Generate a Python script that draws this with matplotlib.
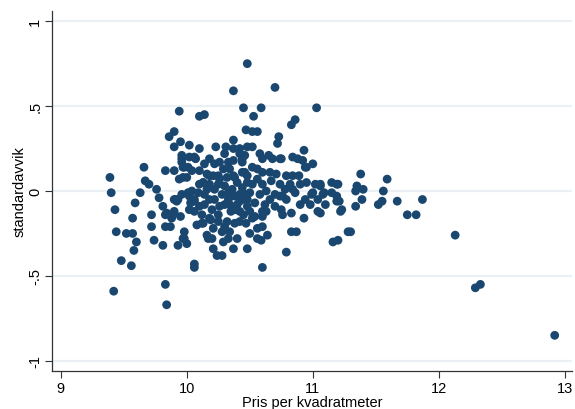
import matplotlib
matplotlib.use("Agg")
import matplotlib.pyplot as plt

plt.rcParams['font.family'] = ['Liberation Sans', 'DejaVu Sans']

price = [
    9.39, 9.40, 9.43, 9.44, 9.52, 9.57, 9.60, 9.58, 9.48, 9.56, 9.42, 9.57, 9.59, 9.63, 9.66, 9.67,
    9.70, 9.76, 9.78, 9.83, 9.90, 9.81, 9.72, 9.72, 9.74, 9.81, 9.84, 9.83, 9.87, 9.88, 9.90, 9.91,
    9.93, 9.95, 9.93, 9.83, 9.84, 9.98, 9.98, 10.00, 10.06, 10.06, 9.94, 9.96, 9.96, 10.06, 10.01, 10.00,
    10.04, 10.10, 10.01, 10.04, 10.03, 10.06, 10.06, 10.10, 10.08, 10.13, 10.19, 10.16, 10.17, 10.21,
    10.24, 10.28, 10.29, 10.37, 10.28, 10.32, 10.35, 9.94, 10.10, 10.14, 10.37, 10.48, 10.45, 10.47,
    9.90, 9.86, 9.95, 9.90, 10.02, 10.10, 10.23, 10.31, 10.37, 10.37, 10.42, 10.48, 10.07, 9.96,
    9.98, 10.13, 10.22, 10.26, 10.33, 10.37, 10.44, 10.46, 10.18, 10.25, 10.32, 10.38, 10.44, 10.29,
    10.70, 10.59, 10.53, 11.03, 10.86, 10.83, 10.52, 10.56, 10.73, 10.72, 10.93, 10.52, 10.58, 10.65,
    10.74, 10.84, 10.92, 11.00, 10.95, 10.89, 10.95, 11.02, 11.06, 11.15, 11.19, 11.09, 11.15, 10.70,
    10.63, 10.52, 10.66, 10.71, 10.79, 10.60, 10.60, 10.68, 10.75, 10.88, 10.94, 10.52, 10.56, 10.46,
    10.42, 10.44, 10.02, 9.97, 9.90, 9.92, 9.83, 9.89, 9.97, 10.12, 10.18, 10.02, 10.06, 9.96,
    10.02, 10.09, 10.16, 10.13, 9.97, 10.16, 10.21, 10.26, 10.37, 10.33, 10.38, 10.48, 10.60, 10.79,
    10.59, 10.64, 10.50, 10.56, 10.60, 10.52, 10.54, 10.60, 10.63, 10.50, 10.48, 10.75, 10.76, 10.83,
    10.83, 10.87, 10.93, 11.04, 11.06, 11.16, 11.20, 10.76, 10.79, 10.84, 10.86, 10.99, 11.08, 11.19,
    10.42, 10.44, 10.48, 10.56, 11.23, 11.19, 11.28, 11.00, 11.06, 10.84, 10.74, 10.48, 10.50, 10.48,
    10.54, 10.40, 10.60, 11.20, 11.21, 11.22, 11.30, 11.34, 11.38, 11.35, 11.40, 11.34, 11.39, 11.52,
    11.55, 11.59, 11.56, 11.67, 11.75, 11.82, 11.87, 12.13, 12.29, 12.33, 12.92,
    10.10, 10.14, 10.18, 10.22, 10.25, 10.28, 10.30, 10.20, 10.14, 10.25, 10.34, 10.38, 10.42, 10.44,
    10.40, 10.30, 10.22, 10.33, 10.36, 10.18, 10.26, 10.12, 10.21, 10.25, 10.42, 10.46, 10.38, 10.34,
    10.30, 10.20, 10.42, 10.45, 10.47, 10.40, 10.33, 10.56, 10.60, 10.67, 10.74, 10.78, 10.66, 10.58,
    10.62, 10.70, 10.90, 10.94, 10.98, 11.04, 11.10, 10.90, 10.82, 10.18, 10.30, 10.14, 10.34,
]

std_dev = [
    0.08, -0.01, -0.11, -0.24, -0.25, -0.25, -0.30, -0.35, -0.41, -0.44, -0.59, -0.16, -0.07, -0.01, 0.14, 0.06,
    0.04, 0.01, -0.04, 0.12, 0.12, -0.09, -0.14, -0.21, -0.29, -0.32, -0.13, -0.21, -0.21, -0.16, -0.12, -0.05,
    -0.05, -0.15, -0.32, -0.55, -0.67, -0.24, -0.28, -0.31, -0.43, -0.45, 0.07, 0.19, 0.21, 0.20, 0.14, 0.08,
    0.12, 0.12, -0.01, 0.00, -0.07, -0.05, -0.12, -0.09, -0.20, -0.19, -0.17, -0.26, -0.28, -0.34,
    -0.38, -0.38, -0.30, -0.34, -0.24, -0.18, -0.12, 0.47, 0.44, 0.45, 0.59, 0.75, 0.49, 0.36,
    0.35, 0.32, 0.29, 0.26, 0.27, 0.25, 0.26, 0.26, 0.30, 0.25, 0.25, 0.26, 0.19, 0.17,
    0.14, 0.05, 0.16, 0.17, 0.17, 0.18, 0.17, 0.21, 0.09, 0.09, 0.08, 0.08, 0.11, 0.13,
    0.61, 0.49, 0.44, 0.49, 0.42, 0.39, 0.35, 0.35, 0.32, 0.28, 0.24, 0.26, 0.22, 0.21,
    0.19, 0.20, 0.18, 0.16, 0.14, 0.09, 0.05, 0.04, 0.03, 0.05, 0.04, -0.01, -0.01, -0.02,
    0.00, 0.04, 0.11, 0.10, 0.09, 0.11, 0.19, 0.19, 0.19, 0.19, 0.14, 0.14, 0.13, 0.11,
    0.22, 0.19, 0.20, 0.14, -0.05, -0.06, -0.14, -0.14, -0.28, -0.19, -0.16, -0.11, -0.06, -0.02,
    -0.03, -0.01, 0.01, 0.05, 0.08, 0.10, 0.09, 0.07, 0.09, -0.01, -0.03, -0.34, -0.45, -0.36,
    -0.29, -0.26, -0.25, -0.22, -0.21, -0.16, -0.15, -0.12, -0.12, -0.12, -0.09, -0.11, -0.14, -0.13,
    -0.24, -0.24, -0.16, -0.12, -0.13, -0.30, -0.29, -0.03, -0.05, 0.01, -0.01, -0.02, -0.02, -0.03,
    -0.06, -0.05, 0.09, -0.28, -0.11, -0.06, -0.24, -0.01, 0.04, 0.09, -0.03, 0.05, -0.01, -0.05,
    -0.07, -0.08, -0.15, 0.04, -0.06, -0.12, -0.24, -0.09, 0.10, 0.03, 0.01, 0.00, -0.05, -0.08,
    -0.06, 0.07, 0.00, -0.06, -0.14, -0.14, -0.05, -0.26, -0.57, -0.55, -0.85,
    0.04, -0.02, -0.05, 0.01, 0.04, -0.02, -0.08, -0.11, -0.08, -0.14, -0.08, -0.11, -0.12, 0.02,
    0.05, 0.03, -0.05, -0.05, 0.01, 0.04, -0.09, -0.14, -0.22, -0.18, -0.18, -0.02, -0.19, -0.24,
    -0.21, -0.28, -0.02, -0.14, -0.19, -0.28, -0.28, 0.07, 0.04, 0.06, 0.04, 0.01, -0.05, -0.02,
    -0.08, -0.09, 0.04, -0.05, -0.08, -0.05, -0.08, -0.08, 0.04, 0.19, 0.22, 0.16, 0.13,
]

x_ticks = [9, 10, 11, 12, 13]
y_ticks = [-1, -0.5, 0, 0.5, 1]
y_tick_labels = ["-1", "-.5", "0", ".5", "1"]

fig = plt.figure(figsize=(5.75, 4.10), dpi=100)
ax = fig.add_axes([0.0904, 0.0927, 0.905, 0.878])

ax.scatter(price, std_dev, s=40, color='#1a476f', edgecolors='none', zorder=3)

ax.set_xlim(8.93, 13.06)
ax.set_ylim(-1.06, 1.06)
ax.set_xticks(x_ticks)
ax.set_yticks(y_ticks)
ax.set_yticklabels(y_tick_labels, rotation=90, va='center')
ax.tick_params(axis='both', labelsize=10.5, length=5, width=0.8, color='#333333', pad=2)

for yv in y_ticks:
    ax.axhline(yv, color='#eaf0f3', lw=1.6, zorder=1)

for s in ['top', 'right']:
    ax.spines[s].set_visible(False)
for s in ['left', 'bottom']:
    ax.spines[s].set_color('#333333')
    ax.spines[s].set_linewidth(0.9)

ax.set_xlabel("Pris per kvadratmeter", fontsize=10.5, labelpad=0)
ax.set_ylabel("standardavvik", fontsize=10.5, labelpad=1)

fig.savefig("out.png", dpi=100, facecolor='white')
